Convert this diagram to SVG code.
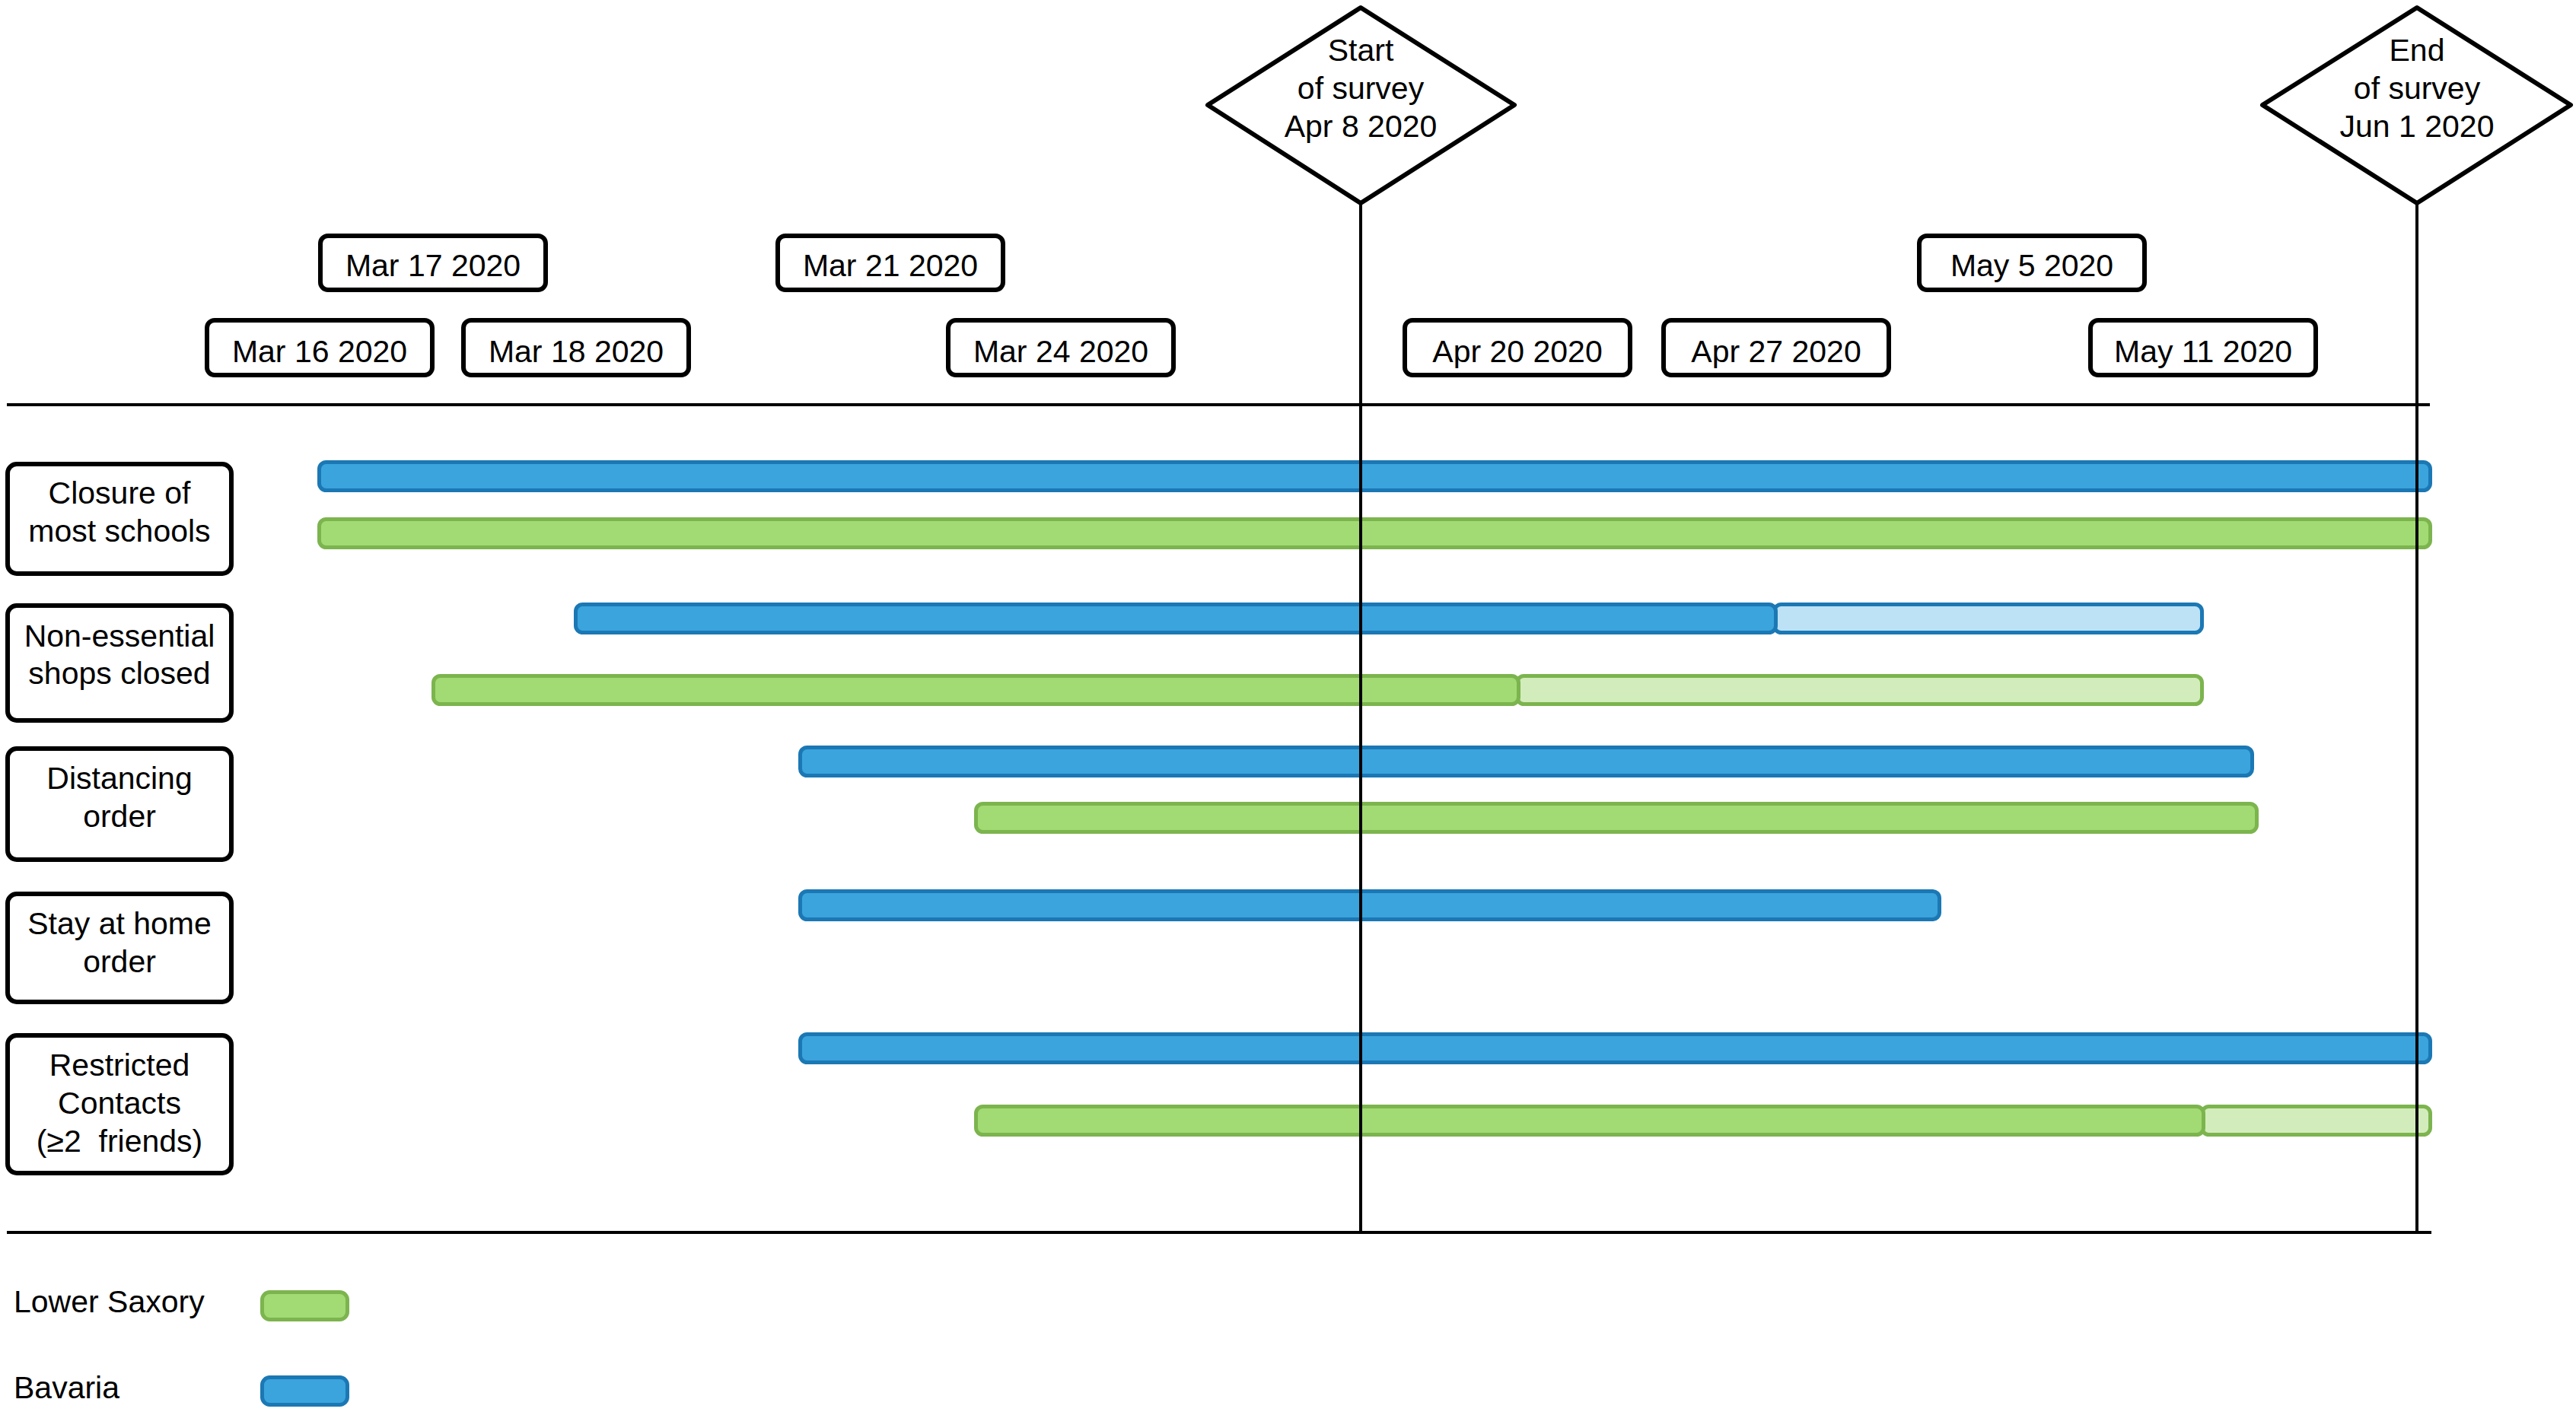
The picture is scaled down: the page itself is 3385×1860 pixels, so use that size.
<svg xmlns="http://www.w3.org/2000/svg" width="3385" height="1860" viewBox="0 0 3385 1860">
<style>
text{font-family:"Liberation Sans",Arial,sans-serif;font-size:41px;fill:#000;text-anchor:middle}
.lg{text-anchor:start}
.box{fill:#fff;stroke:#000;stroke-width:6}
.dia{fill:#fff;stroke:#000;stroke-width:6;stroke-linejoin:round}
.ln{stroke:#000;stroke-width:4;fill:none}
.b{fill:#3BA4DC;stroke:#1B78B4;stroke-width:5}
.bl{fill:#BDE2F6;stroke:#1B78B4;stroke-width:5}
.g{fill:#A2DA74;stroke:#7CB44E;stroke-width:5}
.gl{fill:#D2EDBB;stroke:#7CB44E;stroke-width:5}
</style>
<rect width="3385" height="1860" fill="#fff"/>

<g id="bars">
<rect class="b" x="419.5" y="607.5" width="2774" height="37" rx="9"/>
<rect class="g" x="419.5" y="682.5" width="2774" height="37" rx="9"/>
<rect class="bl" x="2331.5" y="794.5" width="562" height="37" rx="9"/>
<rect class="b" x="756.5" y="794.5" width="1577" height="37" rx="9"/>
<rect class="gl" x="1993.5" y="888.5" width="900" height="37" rx="9"/>
<rect class="g" x="569.5" y="888.5" width="1426" height="37" rx="9"/>
<rect class="b" x="1051.5" y="982.5" width="1908" height="37" rx="9"/>
<rect class="g" x="1282.5" y="1056.5" width="1683" height="37" rx="9"/>
<rect class="b" x="1051.5" y="1171.5" width="1497" height="37" rx="9"/>
<rect class="b" x="1051.5" y="1359.5" width="2142" height="37" rx="9"/>
<rect class="gl" x="2893.5" y="1454.5" width="300" height="37" rx="9"/>
<rect class="g" x="1282.5" y="1454.5" width="1613" height="37" rx="9"/>
</g>

<g id="connectors">
<line class="ln" x1="9" y1="532" x2="3193" y2="532"/>
<line class="ln" x1="9" y1="1620" x2="3195" y2="1620" stroke-width="5"/>
<line class="ln" x1="1788" y1="267" x2="1788" y2="1620"/>
<line class="ln" x1="3176" y1="267" x2="3176" y2="1620"/>
</g>

<g id="start-survey">
<polygon class="dia" points="1788,10 1990,138 1788,267 1587,138"/>
<text x="1788" y="80">Start</text>
<text x="1788" y="130">of survey</text>
<text x="1788" y="180">Apr 8 2020</text>
</g>
<g id="end-survey">
<polygon class="dia" points="3176,10 3378,138 3176,267 2973,138"/>
<text x="3176" y="80">End</text>
<text x="3176" y="130">of survey</text>
<text x="3176" y="180">Jun 1 2020</text>
</g>

<g id="d-mar17"><rect class="box" x="421" y="310" width="296" height="71" rx="10"/><text x="569" y="363">Mar 17 2020</text></g>
<g id="d-mar21"><rect class="box" x="1022" y="310" width="296" height="71" rx="10"/><text x="1170" y="363">Mar 21 2020</text></g>
<g id="d-may5"><rect class="box" x="2522" y="310" width="296" height="71" rx="10"/><text x="2670" y="363">May 5 2020</text></g>
<g id="d-mar16"><rect class="box" x="272" y="421" width="296" height="72" rx="10"/><text x="420" y="476">Mar 16 2020</text></g>
<g id="d-mar18"><rect class="box" x="609" y="421" width="296" height="72" rx="10"/><text x="757" y="476">Mar 18 2020</text></g>
<g id="d-mar24"><rect class="box" x="1246" y="421" width="296" height="72" rx="10"/><text x="1394" y="476">Mar 24 2020</text></g>
<g id="d-apr20"><rect class="box" x="1846" y="421" width="296" height="72" rx="10"/><text x="1994" y="476">Apr 20 2020</text></g>
<g id="d-apr27"><rect class="box" x="2186" y="421" width="296" height="72" rx="10"/><text x="2334" y="476">Apr 27 2020</text></g>
<g id="d-may11"><rect class="box" x="2747" y="421" width="296" height="72" rx="10"/><text x="2895" y="476">May 11 2020</text></g>

<g id="l-closure"><rect class="box" x="10" y="610" width="294" height="144" rx="12"/><text x="157" y="662">Closure of</text><text x="157" y="712">most schools</text></g>
<g id="l-shops"><rect class="box" x="10" y="796" width="294" height="151" rx="12"/><text x="157" y="850">Non-essential</text><text x="157" y="899">shops closed</text></g>
<g id="l-distancing"><rect class="box" x="10" y="984" width="294" height="146" rx="12"/><text x="157" y="1037">Distancing</text><text x="157" y="1087">order</text></g>
<g id="l-stayhome"><rect class="box" x="10" y="1175" width="294" height="142" rx="12"/><text x="157" y="1228">Stay at home</text><text x="157" y="1278">order</text></g>
<g id="l-contacts"><rect class="box" x="10" y="1361" width="294" height="181" rx="12"/><text x="157" y="1414">Restricted</text><text x="157" y="1464">Contacts</text><text x="157" y="1514" xml:space="preserve">(≥2  friends)</text></g>

<g id="legend-lower-saxony"><text class="lg" x="18" y="1725">Lower Saxory</text><rect class="g" x="344.5" y="1698.5" width="112" height="36" rx="10"/></g>
<g id="legend-bavaria"><text class="lg" x="18" y="1838">Bavaria</text><rect class="b" x="344.5" y="1810.5" width="112" height="36" rx="10"/></g>
</svg>
